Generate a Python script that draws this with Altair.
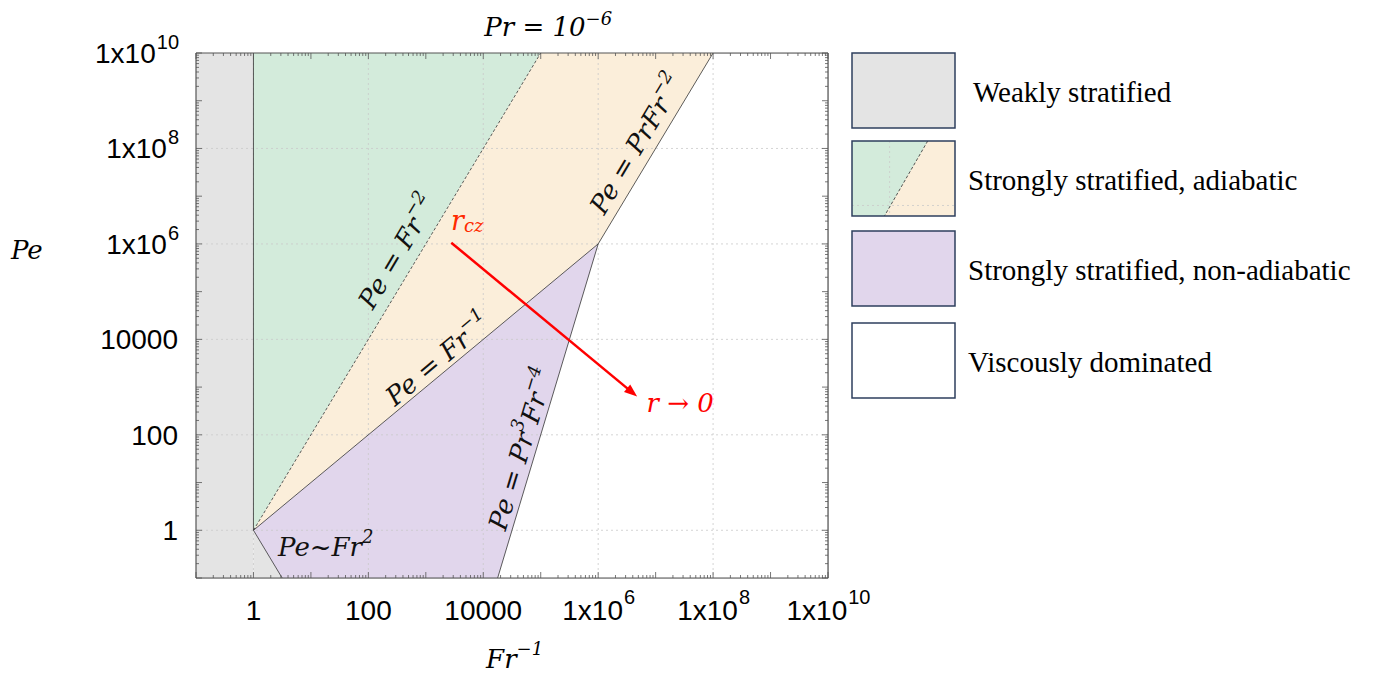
import altair as alt
import pandas as pd

# ---------------- data ----------------
AX_MIN, AX_MAX = 0.1, 1e10

# filled regions (area polygons: x, upper y, lower y2)
weak_a_x, weak_a_y, weak_a_y2 = [0.1, 1], [1e10, 1e10], [0.1, 0.1]
weak_b_x, weak_b_y, weak_b_y2 = [1, 3.162], [1, 0.1], [0.1, 0.1]
green_x, green_y, green_y2 = [1, 1e5], [1e10, 1e10], [1, 1e10]
peach_x, peach_y, peach_y2 = [1, 1e5, 1e6, 1e8], [1, 1e10, 1e10, 1e10], [1, 1e5, 1e6, 1e10]
purple_x, purple_y, purple_y2 = [1, 3.162, 17783, 1e6], [1, 3.162, 17783, 1e6], [1, 0.1, 0.1, 1e6]

# boundary lines
ln_vert = ([1, 1], [1, 1e10])
ln_fr2 = ([1, 3.162], [1, 0.1])
ln_fr_m1 = ([1, 1e6], [1, 1e6])
ln_prfr = ([1e6, 1e8], [1e6, 1e10])
ln_pr3 = ([17783, 1e6], [0.1, 1e6])
ln_fr_m2 = ([1, 1e5], [1, 1e10])  # dashed

# arrow r_cz -> r -> 0
arrow_x = [10**3.443, 10**6.544]
arrow_y = [10**6.025, 10**2.937]
arrow_tip = (10**6.678, 10**2.803)

tick_values = [1, 100, 1e4, 1e6, 1e8, 1e10]
tick_labels = ["1", "100", "10000", "1x10^6", "1x10^8", "1x10^10"]
grid_values = [1, 100, 1e4, 1e6, 1e8]

regions = ["weak", "green", "adiabatic", "nonadiabatic", "viscous"]
region_colors = ["#E4E4E4", "#D3EBDB", "#FBEEDA", "#E1D6EC", "#FFFFFF"]

legend_regions = ["weak", "adiabatic", "nonadiabatic", "viscous"]
legend_labels = ["Weakly stratified", "Strongly stratified, adiabatic",
                 "Strongly stratified, non-adiabatic", "Viscously dominated"]

# ---------------- build tables ----------------
W, H = 632, 525
rows = []
for pid, reg, xs, ys, y2s in [
    ("a_weak", "weak", weak_a_x, weak_a_y, weak_a_y2),
    ("b_weak", "weak", weak_b_x, weak_b_y, weak_b_y2),
    ("c_green", "green", green_x, green_y, green_y2),
    ("d_peach", "adiabatic", peach_x, peach_y, peach_y2),
    ("e_purple", "nonadiabatic", purple_x, purple_y, purple_y2),
]:
    for x, y, y2 in zip(xs, ys, y2s):
        rows.append({"pid": pid, "region": reg, "x": x, "y": y, "y2": y2})
areas_df = pd.DataFrame(rows)

lrows = []
for lid, (xs, ys) in enumerate([ln_vert, ln_fr2, ln_fr_m1, ln_prfr, ln_pr3]):
    for i, (x, y) in enumerate(zip(xs, ys)):
        lrows.append({"lid": lid, "x": x, "y": y, "i": i})
lines_df = pd.DataFrame(lrows)
dash_df = pd.DataFrame({"x": ln_fr_m2[0], "y": ln_fr_m2[1]})
arrow_df = pd.DataFrame({"x": arrow_x, "y": arrow_y})
tip_df = pd.DataFrame({"x": [arrow_tip[0]], "y": [arrow_tip[1]]})

major = [10.0**d for d in range(-1, 11)]
minor = [k * 10.0**d for d in range(-1, 10) for k in range(2, 10)]
major_df = pd.DataFrame({"t": major})
minor_df = pd.DataFrame({"t": minor})
grid_df = pd.DataFrame({"t": grid_values})
frame_df = pd.DataFrame({"lo": [AX_MIN], "hi": [AX_MAX]})

xscale = alt.Scale(type="log", domain=[AX_MIN, AX_MAX], nice=False)
yscale = alt.Scale(type="log", domain=[AX_MIN, AX_MAX], nice=False)
color_scale = alt.Scale(domain=regions, range=region_colors)

MATH_FONT = "DejaVu Serif"
TICK_FONT = "Liberation Sans"

X = lambda f="x": alt.X(f"{f}:Q", scale=xscale, axis=None)
Y = lambda f="y": alt.Y(f"{f}:Q", scale=yscale, axis=None)

areas = alt.Chart(areas_df).mark_area(interpolate="linear", opacity=1).encode(
    x=X(), y=Y(), y2="y2:Q",
    color=alt.Color("region:N", scale=color_scale, legend=None),
    detail="pid:N",
)

grid_x = alt.Chart(grid_df).mark_rule(color="#C9C9C9", strokeWidth=0.8, strokeDash=[2, 3]).encode(x=X("t"))
grid_y = alt.Chart(grid_df).mark_rule(color="#C9C9C9", strokeWidth=0.8, strokeDash=[2, 3]).encode(y=Y("t"))

lines = alt.Chart(lines_df).mark_line(color="#333", strokeWidth=0.8).encode(
    x=X(), y=Y(), detail="lid:N", order="i:Q")
dashed = alt.Chart(dash_df).mark_line(color="#333", strokeWidth=0.8, strokeDash=[3, 2]).encode(x=X(), y=Y())

TICK = dict(color="#555", strokeWidth=0.8)
ticks = [
    alt.Chart(major_df).mark_rule(**TICK).encode(x=X("t"), y=alt.value(H), y2=alt.value(H - 6)),
    alt.Chart(minor_df).mark_rule(**TICK).encode(x=X("t"), y=alt.value(H), y2=alt.value(H - 3)),
    alt.Chart(major_df).mark_rule(**TICK).encode(x=X("t"), y=alt.value(0), y2=alt.value(6)),
    alt.Chart(minor_df).mark_rule(**TICK).encode(x=X("t"), y=alt.value(0), y2=alt.value(3)),
    alt.Chart(major_df).mark_rule(**TICK).encode(y=Y("t"), x=alt.value(0), x2=alt.value(6)),
    alt.Chart(minor_df).mark_rule(**TICK).encode(y=Y("t"), x=alt.value(0), x2=alt.value(3)),
    alt.Chart(major_df).mark_rule(**TICK).encode(y=Y("t"), x=alt.value(W), x2=alt.value(W - 6)),
    alt.Chart(minor_df).mark_rule(**TICK).encode(y=Y("t"), x=alt.value(W), x2=alt.value(W - 3)),
]

FRAME = dict(color="#555", strokeWidth=1.2)
frame = [
    alt.Chart(frame_df).mark_rule(**FRAME).encode(x=X("lo")),
    alt.Chart(frame_df).mark_rule(**FRAME).encode(x=X("hi")),
    alt.Chart(frame_df).mark_rule(**FRAME).encode(y=Y("lo")),
    alt.Chart(frame_df).mark_rule(**FRAME).encode(y=Y("hi")),
]

arrow = alt.Chart(arrow_df).mark_line(color="#FF0000", strokeWidth=2.5, strokeCap="butt").encode(x=X(), y=Y())
tip = alt.Chart(tip_df).mark_point(shape="M0,0L-2,-0.75L-2,0.75Z", size=169, filled=True,
                                   opacity=1, color="#FF0000", angle=39.6).encode(x=X(), y=Y())

# ---------------- tick labels (from the tick lists, placed through the scales) ----------------
SANS_W = {"x": 0.5}
TL_SIZE, TL_SUP = 28, 20


def sans_w(s, size):
    return sum(SANS_W.get(c, 0.556) for c in s) * size


tick_label_layers = []
for v, lab in zip(tick_values, tick_labels):
    base, _, sup = lab.partition("^")
    bw, sw = sans_w(base, TL_SIZE), sans_w(sup, TL_SUP)
    d = pd.DataFrame({"v": [v], "base": [base], "sup": [sup]})
    c = alt.Chart(d)
    # x axis (bottom)
    a = -(bw + sw) / 2 + bw
    tick_label_layers.append(c.mark_text(font=TICK_FONT, fontSize=TL_SIZE, color="#000",
                                         align="right", baseline="middle", dx=a).encode(
        x=X("v"), y=alt.value(H + 34), text="base:N"))
    # y axis (left)
    ax = -18 - sw
    tick_label_layers.append(c.mark_text(font=TICK_FONT, fontSize=TL_SIZE, color="#000",
                                         align="right", baseline="middle", dy=2).encode(
        y=Y("v"), x=alt.value(ax), text="base:N"))
    if sup:
        tick_label_layers.append(c.mark_text(font=TICK_FONT, fontSize=TL_SUP, color="#000",
                                             align="left", baseline="middle", dx=a + 1).encode(
            x=X("v"), y=alt.value(H + 20), text="sup:N"))
        tick_label_layers.append(c.mark_text(font=TICK_FONT, fontSize=TL_SUP, color="#000",
                                             align="left", baseline="middle", dx=1, dy=-10).encode(
            y=Y("v"), x=alt.value(ax), text="sup:N"))

# ---------------- math annotations with real superscripts ----------------
MW = {"P": .689, "e": .592, " ": .318, "=": .838, "F": .662, "r": .479, "−": .838,
      "~": .838, "c": .55, "z": .52, "→": .838}


def math_w(s, size):
    return sum(MW.get(c, .636) for c in s) * size


def rich(segs, pos, angle=0, size=26, color="#111", sup_ratio=0.68, rise=10, pixel=False):
    """segs: list of (text, kind) with kind 'n' (normal), 'sup' or 'sub'."""
    sizes = [size if k == "n" else round(size * sup_ratio) for _, k in segs]
    widths = [math_w(t, s) for (t, _), s in zip(segs, sizes)]
    total = sum(widths)
    out = []
    cur = -total / 2
    for j, ((t, k), s, w) in enumerate(zip(segs, sizes, widths)):
        dy = -rise if k == "sup" else (rise * 0.5 if k == "sub" else 0)
        if j == 0:
            align, dx = "right", cur + w
        else:
            align, dx = "left", cur
        cur += w
        d = pd.DataFrame({"x": [pos[0]], "y": [pos[1]], "t": [t]})
        if pixel:
            enc = dict(x=alt.value(pos[0]), y=alt.value(pos[1]), text="t:N")
        else:
            enc = dict(x=X(), y=Y(), text="t:N")
        out.append(alt.Chart(d).mark_text(font=MATH_FONT, fontStyle="italic", fontSize=s,
                                          angle=angle, color=color, align=align,
                                          baseline="middle", dx=dx, dy=dy).encode(**enc))
    return out


def at(xe, ye):
    return (10**xe, 10**ye)


texts = []
texts += rich([("Pe = Fr", "n"), ("−2", "sup")], at(2.52, 5.82), angle=300.8)
texts += rich([("Pe = Fr", "n"), ("−1", "sup")], at(3.22, 3.56), angle=320.2)
texts += rich([("Pe = PrFr", "n"), ("−2", "sup")], at(6.68, 8.07), angle=300.8)
texts += rich([("Pe = Pr", "n"), ("3", "sup"), ("Fr", "n"), ("−4", "sup")], at(4.67, 1.68),
              angle=286.8)
texts += rich([("Pe~Fr", "n"), ("2", "sup")], at(1.252, -0.377))
texts += rich([("r", "n"), ("cz", "sub")], at(3.72, 6.46), size=27, color="#FF2A00")
texts += rich([("r → 0", "n")], at(7.426, 2.636), color="#FF0000")
# title, axis titles (outside the plot area)
texts += rich([("Pr = 10", "n"), ("−6", "sup")], (352, -25), pixel=True, color="#000", rise=8)
texts += rich([("Fr", "n"), ("−1", "sup")], (319, 607), pixel=True, color="#000")
texts += rich([("Pe", "n")], (-170, 198), pixel=True, color="#000")

# ---------------- legend (decoration outside the plot area) ----------------
BX0, BX1 = 656, 759
BXC = (BX0 + BX1) / 2
BOX_H = 75
BOX_TOPS = [0, 88, 178, 270]
BSIZE = (BX1 - BX0) ** 2
legend_layers = []
for i, (reg, lab) in enumerate(zip(legend_regions, legend_labels)):
    d = pd.DataFrame({"region": [reg], "label": [lab]})
    top = BOX_TOPS[i]
    base = alt.Chart(d)
    legend_layers.append(base.mark_rect().encode(
        x=alt.value(BX0), x2=alt.value(BX1), y=alt.value(top), y2=alt.value(top + BOX_H),
        color=alt.Color("region:N", scale=color_scale, legend=None)))
    if reg == "adiabatic":
        cy = top + BOX_H / 2
        legend_layers.append(base.mark_point(
            shape="M-1,-0.728L0.47,-0.728L-0.37,0.728L-1,0.728Z", size=BSIZE, filled=True,
            opacity=1, strokeWidth=0, color=region_colors[regions.index("green")]).encode(
            x=alt.value(BXC), y=alt.value(cy)))
        legend_layers.append(base.mark_point(
            shape="M-0.27,-0.728L-0.27,0.728M-1,0.524L1,0.524", size=BSIZE, filled=False,
            opacity=1, color="#C9C9C9", strokeWidth=0.8, strokeDash=[2, 3]).encode(
            x=alt.value(BXC), y=alt.value(cy)))
        legend_layers.append(base.mark_point(
            shape="M0.47,-0.728L-0.37,0.728", size=BSIZE, filled=False, opacity=1,
            color="#444", strokeWidth=0.9, strokeDash=[3, 2]).encode(
            x=alt.value(BXC), y=alt.value(cy)))
    legend_layers.append(base.mark_rect(fillOpacity=0, stroke="#2E3F5E", strokeWidth=1.5).encode(
        x=alt.value(BX0), x2=alt.value(BX1), y=alt.value(top), y2=alt.value(top + BOX_H)))
    legend_layers.append(base.mark_text(align="left", baseline="middle", font="Liberation Serif",
                                        fontSize=29, color="#000").encode(
        x=alt.value(777 if i == 0 else 772), y=alt.value(top + BOX_H / 2 + 2), text="label:N"))

chart = alt.layer(areas, grid_x, grid_y, lines, dashed, *ticks, *frame, arrow, tip,
                  *tick_label_layers, *texts, *legend_layers).properties(
    width=W, height=H,
    autosize=alt.AutoSizeParams(type="none"),
    padding={"left": 188, "top": 45, "right": 540, "bottom": 95},
).configure_view(stroke=None).configure(background="white")

chart.save("out.html", embed_options={"renderer": "svg", "actions": False})
